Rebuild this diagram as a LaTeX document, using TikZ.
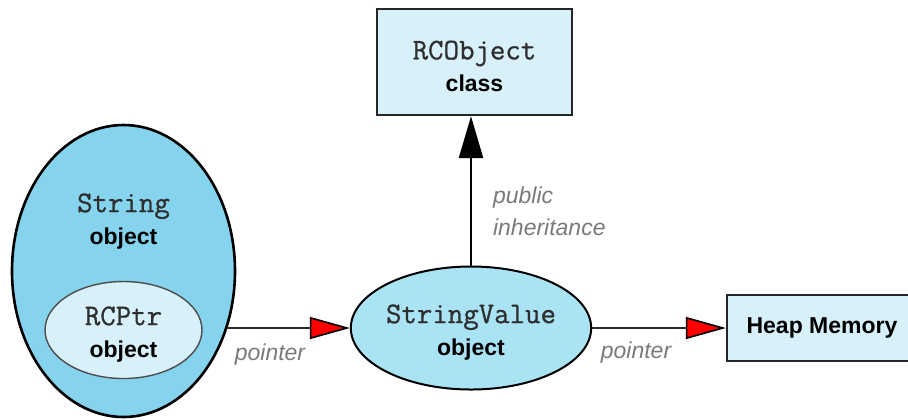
\documentclass[tikz,border=0pt]{standalone}
\usepackage{fontspec}
\setmainfont{Liberation Sans}
\setmonofont[FakeBold=0.8]{Latin Modern Mono}
\usepackage{xcolor}
\usetikzlibrary{calc,shapes.geometric,arrows.meta}
\definecolor{deepblue}{HTML}{86D3EE}
\definecolor{midblue}{HTML}{AAE3F4}
\definecolor{paleblue}{HTML}{D7F0F9}
\definecolor{labelgrey}{HTML}{7A7A7A}
\definecolor{linegrey}{HTML}{2A2A2A}
\definecolor{codegrey}{HTML}{2E2E2E}
\newcommand{\codetxt}[1]{{\mdseries\ttfamily\fontsize{15}{16}\selectfont\color{codegrey}\rule{0pt}{13.5pt}#1}}

\begin{document}
\begin{tikzpicture}[x=0.5pt, y=-0.5pt,
        obj/.style={ellipse, draw=black, line width=1pt, inner sep=0pt, align=center},
        box/.style={rectangle, draw=black!85, line width=1.2pt, fill=paleblue, inner sep=0pt, align=center},
        note/.style={font=\fontsize{11.5}{16}\selectfont\itshape, text=labelgrey, align=left},
        ptr/.style={draw=linegrey, line width=1.3pt,
            -{Triangle[length=20pt, width=11pt, color=black, fill=red, line width=0.8pt]}},
        inh/.style={draw=black, line width=1.3pt, -{Triangle[length=21pt, width=12pt, fill=black]}},
        font=\fontsize{11.5}{16}\selectfont\bfseries]
    \useasboundingbox (0,0) rectangle (908,419);
    % objects
    \node[obj, fill=deepblue, line width=1.3pt, minimum width=111.5pt, minimum height=146pt] (string) at (123.5,271) {};
    \node[align=center] (stringtxt) at (123.5,217) {\codetxt{String}\\object};
    \node[obj, fill=paleblue, draw=black!70, line width=0.7pt,
        minimum width=78.5pt, minimum height=48.5pt] (rcptr) at (123.5,330) {\codetxt{RCPtr}\\object};
    \node[obj, fill=midblue, minimum width=111pt, minimum height=61.5pt] (sv) at (471,328) {\codetxt{StringValue}\\object};
    \node[box, minimum width=97.5pt, minimum height=53pt] (rco) at (474.5,62) {\codetxt{RCObject}\\class};
    \node[box, minimum width=95pt, minimum height=33pt] (heap) at (822,328) {Heap Memory};
    % connectors
    \draw[ptr] (sv.west -| string.-29) -- (sv.west);
    \draw[ptr] (sv.east) -- (heap.west);
    \draw[inh] (sv.north) -- (sv.north |- rco.south);
    % labels
    \node[note] (ptrlabel1) at (270,355) {pointer};
    \node[note] (ptrlabel2) at (636,353) {pointer};
    \node[note, anchor=west] (inhlabel) at (486,211) {public\\inheritance};
\end{tikzpicture}
\end{document}
